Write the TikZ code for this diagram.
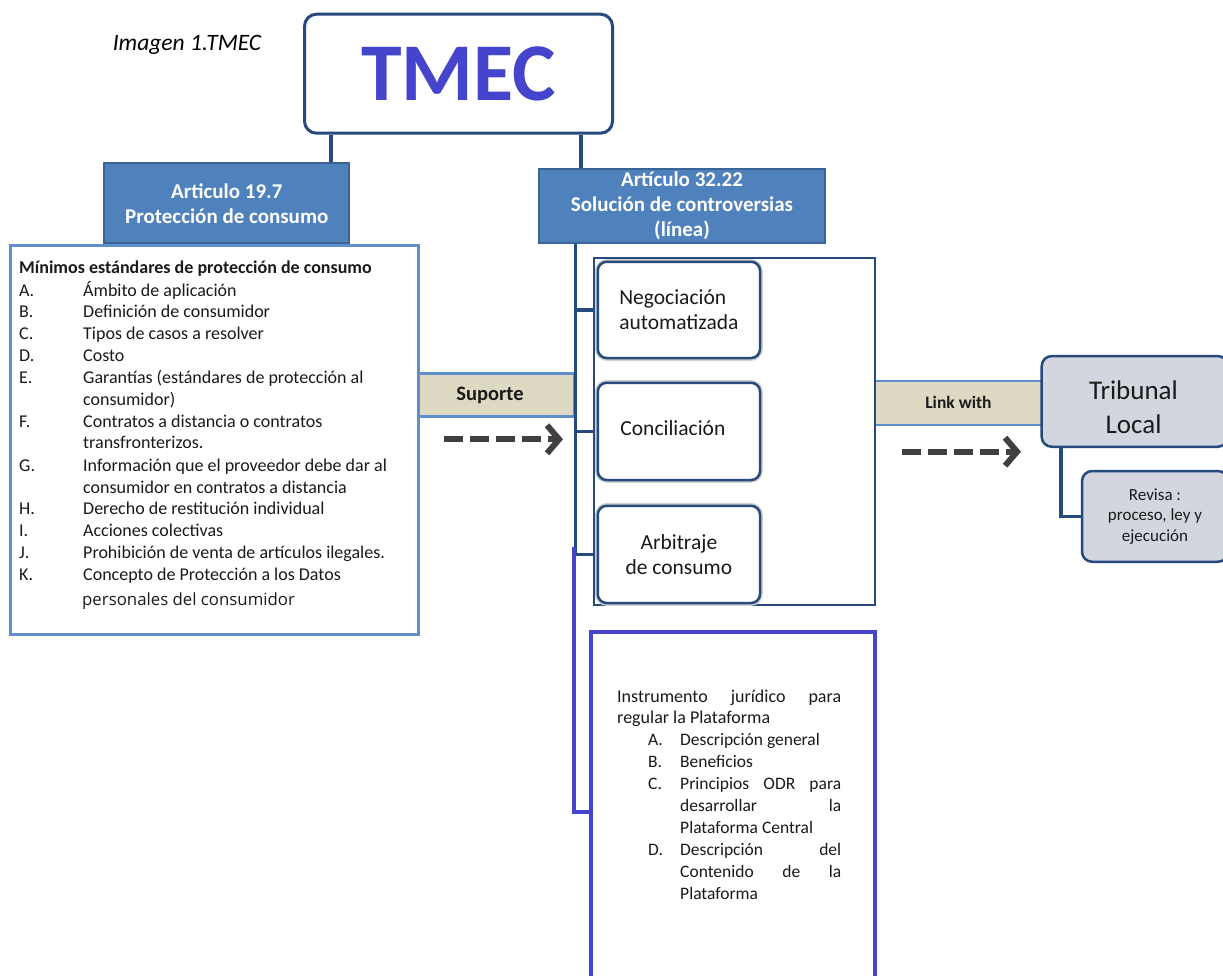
\documentclass[tikz,border=0pt]{standalone}
\usepackage{fontspec}
\setmainfont{Carlito}
\newfontfamily\altfont{Open Sans}
\usetikzlibrary{arrows.meta}
\definecolor{navy}{HTML}{264A7E}
\definecolor{artfill}{HTML}{4F81BD}
\definecolor{artline}{HTML}{3B6496}
\definecolor{paleblue}{HTML}{5F8FCA}
\definecolor{sand}{HTML}{DDD9C3}
\definecolor{indigo}{HTML}{4444CC}
\definecolor{greyfill}{HTML}{D3D6DE}
\definecolor{arrowgrey}{HTML}{404040}
\definecolor{ink}{HTML}{1A1A1A}

\tikzset{
  conn/.style={draw=navy, line width=3.5pt},
  artbox/.style={draw=artline, fill=artfill, line width=2pt, text=white,
    font=\bfseries\fontsize{21}{25}\selectfont, align=center, inner sep=0pt},
  band/.style={draw=paleblue, fill=sand, line width=2.5pt, inner sep=0pt, text=ink},
  optbox/.style={draw=navy, fill=white, rounded corners=9pt, line width=2.5pt,
    preaction={draw=black!18, line width=5.5pt, rounded corners=9pt},
    font=\fontsize{21.5}{25}\selectfont, text=ink, inner sep=0pt},
  greybox/.style={draw=navy, fill=greyfill, rounded corners=10pt, line width=2.5pt,
    text=ink, align=center, inner sep=0pt},
  dasharrow/.style={draw=arrowgrey, line width=6pt, dash pattern=on 19pt off 7pt,
    -{Straight Barb[length=12pt,width=28pt]}},
  listtxt/.style={anchor=base west, inner sep=0pt, text=ink,
    font=\fontsize{18}{22}\selectfont},
}

\begin{document}
\begin{tikzpicture}[x=1pt,y=-1pt]
\useasboundingbox (0,0) rectangle (1223,975);
\fill[white] (0,0) rectangle (1223,975);

% caption
\begin{scope}
  \clip (0,0) rectangle (300,53);
  \node[anchor=base west, inner sep=0pt, font=\itshape\fontsize{23.5}{28}\selectfont]
    (caption) at (112.6,50.7) {Imagen 1.TMEC};
\end{scope}

% root node
\node[draw=navy, line width=3pt, rounded corners=12pt, fill=white,
  minimum width=308, minimum height=119, inner sep=0pt,
  text=indigo, font=\bfseries\fontsize{82}{82}\selectfont]
  (tmec) at (458.5,73.7) {TMEC};

% article headers
\node[artbox, minimum width=245, minimum height=80] (art19) at (226.8,203.3)
  {Articulo 19.7\\Protección de consumo};
\node[artbox, minimum width=286, minimum height=73.7] (art32) at (682,205.8)
  {Artículo 32.22\\Solución de controversias\\(línea)};

\coordinate (c19) at (331.2,0);
\coordinate (c32) at (581,0);
\draw[conn] (tmec.south -| c19) -- (art19.north -| c19);
\draw[conn] (tmec.south -| c32) -- (art32.north -| c32);

% "Suporte" band, then the standards list over its left end
\node[band, minimum width=156, minimum height=43.4,
  font=\bfseries\fontsize{20.5}{24}\selectfont] (suporte) at (496,395)
  {\raisebox{-3pt}{Suporte\hspace*{12pt}}};

\node[draw=paleblue, line width=3pt, fill=white, minimum width=408,
  minimum height=389, inner sep=0pt] (listbox) at (214,439.5) {};

\node[listtxt, font=\bfseries\fontsize{18}{22}\selectfont] (ltitle) at (19,273.8)
  {Mínimos estándares de protección de consumo};
\foreach \lab/\txt/\yy [count=\i] in {
  A./Ámbito de aplicación/290.7,
  B./Definición de consumidor/312.3,
  C./Tipos de casos a resolver/334.3,
  D./Costo/356.3,
  E./Garantías (estándares de protección al/378,
  {}/consumidor)/400,
  F./Contratos a distancia o contratos/422,
  {}/transfronterizos./443.3,
  G./Información que el proveedor debe dar al/465.7,
  {}/consumidor en contratos a distancia/487.7,
  H./Derecho de restitución individual/509.3,
  I./Acciones colectivas/531.3,
  J./Prohibición de venta de artículos ilegales./553.3,
  K./Concepto de Protección a los Datos/575.3}{
  \node[listtxt] (llab\i) at (19,\yy+5.5) {\lab};
  \node[listtxt] (ltxt\i) at (83,\yy+5.5) {\txt};
}
\node[listtxt, font=\altfont\fontsize{16.8}{20}\selectfont] (lend) at (82,605.5)
  {personales del consumidor};

\coordinate (a1s) at (444,439.3);
\coordinate (a1e) at (563,439.3);
\draw[dasharrow] (a1s) -- (a1e);

% "Link with" band
\node[band, minimum width=166.7, minimum height=44.3,
  font=\bfseries\fontsize{17.5}{20}\selectfont] (link) at (958.4,402.9) {Link with};

% resolution mechanisms
\node[draw=navy, line width=2.5pt, fill=white, minimum width=281,
  minimum height=347.3, inner sep=0pt] (cont) at (734.5,431.4) {};
\node[optbox, minimum width=162.3, minimum height=96.3, align=left] (neg)
  at (678.9,309.9) {Negociación\\automatizada};
\node[optbox, minimum width=162.3, minimum height=97.3] (conc)
  at (678.9,431.4) {\raisebox{7pt}{Conciliación\hspace{12pt}}};
\node[optbox, minimum width=162.3, minimum height=97.3, align=center] (arb)
  at (678.9,554.4) {Arbitraje\\de consumo};

\coordinate (trunk) at (575.5,0);
\draw[conn] (art32.south -| trunk) -- (trunk |- arb) -- (cont.west |- arb);
\draw[conn] (trunk |- neg) -- (cont.west |- neg);
\draw[conn] (trunk |- conc) -- (cont.west |- conc);

% legal instrument box
\node[draw=indigo, line width=4pt, minimum width=284, minimum height=370,
  inner sep=0pt] (instr) at (733,817) {};
\coordinate (bluetop) at (574,547);
\coordinate (bluejoin) at (0,812);
\draw[draw=indigo, line width=4pt] (bluetop) |- (instr.west |- bluejoin);

\node[listtxt] (i1) at (617,702) {\hbox to 224pt{Instrumento\hfill jurídico\hfill para}};
\node[listtxt] (i2) at (617,723) {regular la Plataforma};
\foreach \lab/\txt/\yy [count=\i] in {
  A./Descripción general/745,
  B./Beneficios/767,
  C./\hbox to 161pt{Principios\hfill ODR\hfill para}/789,
  {}/\hbox to 161pt{desarrollar\hfill la}/811,
  {}/Plataforma Central/833,
  D./\hbox to 161pt{Descripción\hfill del}/855,
  {}/\hbox to 161pt{Contenido\hfill de\hfill la}/877,
  {}/Plataforma/899}{
  \node[listtxt, font=\fontsize{17.5}{22}\selectfont] (ilab\i) at (648,\yy) {\lab};
  \node[listtxt, font=\fontsize{17.5}{22}\selectfont] (itxt\i) at (680,\yy) {\txt};
}

% local court
\node[greybox, minimum width=186, minimum height=90.7] (trib) at (1134.7,401.4) {};
\node[align=center, inner sep=0pt, text=ink, font=\fontsize{27}{34}\selectfont]
  (tribtxt) at (1133.5,407) {Tribunal\\Local};
\node[greybox, minimum width=146, minimum height=90.7,
  font=\fontsize{17}{20.5}\selectfont] (revisa) at (1155,516.4)
  {Revisa :\\proceso, ley y\\ejecución};
\coordinate (tv) at (1061,0);
\draw[conn] (trib.south -| tv) |- (revisa.west);

\coordinate (a2s) at (902,451.7);
\coordinate (a2e) at (1021,451.7);
\draw[dasharrow] (a2s) -- (a2e);
\end{tikzpicture}
\end{document}
